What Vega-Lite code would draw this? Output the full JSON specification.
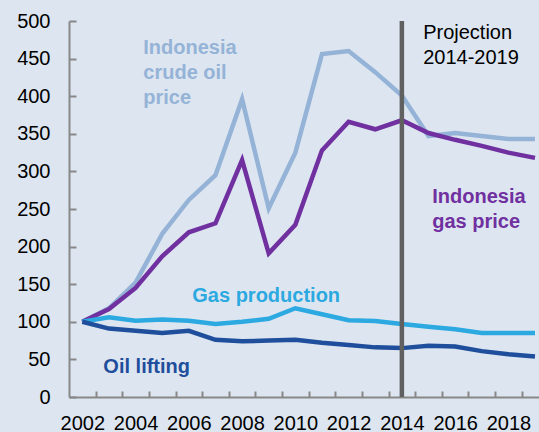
{
  "$schema": "https://vega.github.io/schema/vega-lite/v6.json",
  "width": 470,
  "height": 376,
  "autosize": {"type": "none"},
  "padding": {"left": 69, "top": 21, "right": 0, "bottom": 35},
  "background": "#DDE6F0",
  "config": {
    "view": {"stroke": null},
    "font": "Liberation Sans",
    "axis": {
      "title": null, "grid": false,
      "labelOverlap": false, "labelFlush": false, "labelBound": false,
      "ticks": true, "tickWidth": 2, "tickColor": "#888888", "tickOpacity": 1,
      "domainColor": "#888888", "domainWidth": 2,
      "labelFontSize": 20, "labelColor": "#000000"
    },
    "axisX": {"tickSize": -6, "labelPadding": 22, "labelOffset": -13.3},
    "axisY": {"tickSize": -7, "labelPadding": 26}
  },
  "datasets": {
    "lines": [
      {"year": 2002, "value": 100, "series": "crude"},
      {"year": 2003, "value": 118, "series": "crude"},
      {"year": 2004, "value": 152, "series": "crude"},
      {"year": 2005, "value": 217, "series": "crude"},
      {"year": 2006, "value": 262, "series": "crude"},
      {"year": 2007, "value": 295, "series": "crude"},
      {"year": 2008, "value": 396, "series": "crude"},
      {"year": 2009, "value": 251, "series": "crude"},
      {"year": 2010, "value": 325, "series": "crude"},
      {"year": 2011, "value": 456, "series": "crude"},
      {"year": 2012, "value": 460, "series": "crude"},
      {"year": 2013, "value": 432, "series": "crude"},
      {"year": 2014, "value": 401, "series": "crude"},
      {"year": 2015, "value": 347, "series": "crude"},
      {"year": 2016, "value": 351, "series": "crude"},
      {"year": 2017, "value": 347, "series": "crude"},
      {"year": 2018, "value": 343, "series": "crude"},
      {"year": 2019, "value": 343, "series": "crude"},
      {"year": 2002, "value": 100, "series": "gasprice"},
      {"year": 2003, "value": 117, "series": "gasprice"},
      {"year": 2004, "value": 145, "series": "gasprice"},
      {"year": 2005, "value": 187, "series": "gasprice"},
      {"year": 2006, "value": 219, "series": "gasprice"},
      {"year": 2007, "value": 231, "series": "gasprice"},
      {"year": 2008, "value": 315, "series": "gasprice"},
      {"year": 2009, "value": 191, "series": "gasprice"},
      {"year": 2010, "value": 229, "series": "gasprice"},
      {"year": 2011, "value": 328, "series": "gasprice"},
      {"year": 2012, "value": 366, "series": "gasprice"},
      {"year": 2013, "value": 356, "series": "gasprice"},
      {"year": 2014, "value": 368, "series": "gasprice"},
      {"year": 2015, "value": 351, "series": "gasprice"},
      {"year": 2016, "value": 342, "series": "gasprice"},
      {"year": 2017, "value": 334, "series": "gasprice"},
      {"year": 2018, "value": 325, "series": "gasprice"},
      {"year": 2019, "value": 318, "series": "gasprice"},
      {"year": 2002, "value": 100, "series": "gasprod"},
      {"year": 2003, "value": 106, "series": "gasprod"},
      {"year": 2004, "value": 101.5, "series": "gasprod"},
      {"year": 2005, "value": 103, "series": "gasprod"},
      {"year": 2006, "value": 101.5, "series": "gasprod"},
      {"year": 2007, "value": 97, "series": "gasprod"},
      {"year": 2008, "value": 100, "series": "gasprod"},
      {"year": 2009, "value": 104, "series": "gasprod"},
      {"year": 2010, "value": 118, "series": "gasprod"},
      {"year": 2011, "value": 110, "series": "gasprod"},
      {"year": 2012, "value": 102, "series": "gasprod"},
      {"year": 2013, "value": 101, "series": "gasprod"},
      {"year": 2014, "value": 97, "series": "gasprod"},
      {"year": 2015, "value": 93.5, "series": "gasprod"},
      {"year": 2016, "value": 90, "series": "gasprod"},
      {"year": 2017, "value": 85, "series": "gasprod"},
      {"year": 2018, "value": 85, "series": "gasprod"},
      {"year": 2019, "value": 85, "series": "gasprod"},
      {"year": 2002, "value": 100, "series": "oil"},
      {"year": 2003, "value": 91, "series": "oil"},
      {"year": 2004, "value": 88, "series": "oil"},
      {"year": 2005, "value": 85, "series": "oil"},
      {"year": 2006, "value": 88, "series": "oil"},
      {"year": 2007, "value": 76, "series": "oil"},
      {"year": 2008, "value": 74, "series": "oil"},
      {"year": 2009, "value": 75, "series": "oil"},
      {"year": 2010, "value": 76, "series": "oil"},
      {"year": 2011, "value": 72, "series": "oil"},
      {"year": 2012, "value": 69, "series": "oil"},
      {"year": 2013, "value": 66, "series": "oil"},
      {"year": 2014, "value": 65, "series": "oil"},
      {"year": 2015, "value": 68, "series": "oil"},
      {"year": 2016, "value": 67, "series": "oil"},
      {"year": 2017, "value": 61, "series": "oil"},
      {"year": 2018, "value": 57, "series": "oil"},
      {"year": 2019, "value": 54, "series": "oil"}
    ],
    "labels": [
      {"year": 2004.29, "value": 456, "label": "Indonesia\ncrude oil\nprice", "series": "crude"},
      {"year": 2015.14, "value": 258, "label": "Indonesia\ngas price", "series": "gasprice"},
      {"year": 2006.13, "value": 126, "label": "Gas production", "series": "gasprod"},
      {"year": 2002.79, "value": 32, "label": "Oil lifting", "series": "oil"}
    ],
    "marker": [{"year": 2014}],
    "note": [{"year": 2014.8, "value": 476, "label": "Projection\n2014-2019"}]
  },
  "layer": [
    {
      "data": {"name": "lines"},
      "mark": {"type": "line", "strokeWidth": 4.5},
      "encoding": {
        "x": {
          "field": "year", "type": "quantitative",
          "scale": {"domain": [2001.5, 2019.15], "nice": false, "zero": false},
          "axis": {
            "values": [2002.5, 2003.5, 2004.5, 2005.5, 2006.5, 2007.5, 2008.5, 2009.5, 2010.5, 2011.5, 2012.5, 2013.5, 2014.5, 2015.5, 2016.5, 2017.5, 2018.5],
            "labelExpr": "(datum.value - 0.5) % 2 == 0 ? format(datum.value - 0.5, 'd') : ''",
            "labelOverlap": false
          }
        },
        "y": {
          "field": "value", "type": "quantitative",
          "scale": {"domain": [0, 500], "nice": false},
          "axis": {
            "values": [0, 50, 100, 150, 200, 250, 300, 350, 400, 450, 500],
            "tickCount": 11,
            "labelOverlap": false
          }
        },
        "color": {
          "field": "series", "type": "nominal",
          "scale": {"domain": ["crude", "gasprice", "gasprod", "oil"], "range": ["#95B3D7", "#7030A0", "#2BA9E0", "#1F4E9C"]},
          "legend": null
        }
      }
    },
    {
      "data": {"name": "marker"},
      "mark": {"type": "rule", "color": "#606060", "strokeWidth": 4.5},
      "encoding": {
        "x": {
          "field": "year", "type": "quantitative",
          "axis": {
            "values": [2002.5, 2003.5, 2004.5, 2005.5, 2006.5, 2007.5, 2008.5, 2009.5, 2010.5, 2011.5, 2012.5, 2013.5, 2014.5, 2015.5, 2016.5, 2017.5, 2018.5],
            "labelExpr": "(datum.value - 0.5) % 2 == 0 ? format(datum.value - 0.5, 'd') : ''",
            "labelOverlap": false
          }
        }
      }
    },
    {
      "data": {"name": "labels"},
      "mark": {"type": "text", "align": "left", "baseline": "alphabetic", "fontSize": 20, "fontWeight": "bold", "lineBreak": "\n", "lineHeight": 25},
      "encoding": {
        "x": {
          "field": "year", "type": "quantitative",
          "axis": {
            "values": [2002.5, 2003.5, 2004.5, 2005.5, 2006.5, 2007.5, 2008.5, 2009.5, 2010.5, 2011.5, 2012.5, 2013.5, 2014.5, 2015.5, 2016.5, 2017.5, 2018.5],
            "labelExpr": "(datum.value - 0.5) % 2 == 0 ? format(datum.value - 0.5, 'd') : ''",
            "labelOverlap": false
          }
        },
        "y": {
          "field": "value", "type": "quantitative",
          "axis": {
            "values": [0, 50, 100, 150, 200, 250, 300, 350, 400, 450, 500],
            "tickCount": 11,
            "labelOverlap": false
          }
        },
        "text": {"field": "label", "type": "nominal"},
        "color": {"field": "series", "type": "nominal", "legend": null}
      }
    },
    {
      "data": {"name": "note"},
      "mark": {"type": "text", "align": "left", "baseline": "alphabetic", "fontSize": 20, "color": "#000000", "lineBreak": "\n", "lineHeight": 25},
      "encoding": {
        "x": {
          "field": "year", "type": "quantitative",
          "axis": {
            "values": [2002.5, 2003.5, 2004.5, 2005.5, 2006.5, 2007.5, 2008.5, 2009.5, 2010.5, 2011.5, 2012.5, 2013.5, 2014.5, 2015.5, 2016.5, 2017.5, 2018.5],
            "labelExpr": "(datum.value - 0.5) % 2 == 0 ? format(datum.value - 0.5, 'd') : ''",
            "labelOverlap": false
          }
        },
        "y": {
          "field": "value", "type": "quantitative",
          "axis": {
            "values": [0, 50, 100, 150, 200, 250, 300, 350, 400, 450, 500],
            "tickCount": 11,
            "labelOverlap": false
          }
        },
        "text": {"field": "label", "type": "nominal"}
      }
    }
  ]
}
